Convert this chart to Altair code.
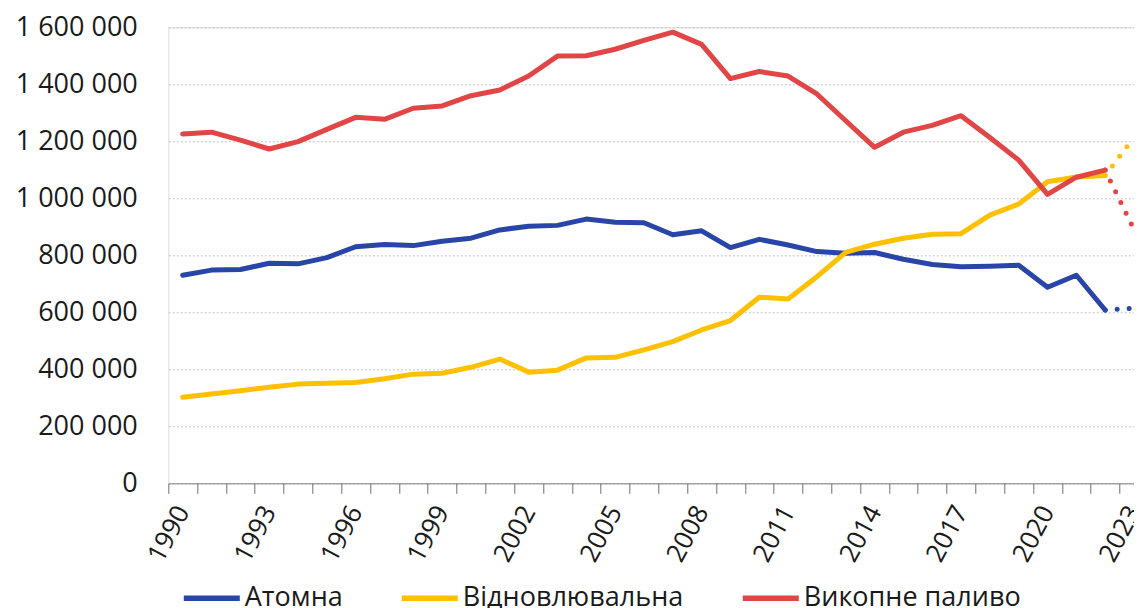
import altair as alt
import pandas as pd

years = list(range(1990, 2023))
series_names = ["Атомна", "Відновлювальна", "Викопне паливо"]
colors = ["#2A45A8", "#FFC000", "#E24545"]

nuclear = [730000, 748000, 750000, 772000, 770000, 792000, 830000, 838000, 834000, 849000,
           860000, 889000, 902000, 905000, 927000, 916000, 914000, 872000, 886000, 827000,
           856000, 836000, 813000, 807000, 810000, 786000, 768000, 760000, 762000, 765000,
           688000, 730000, 608000]
renewable = [302000, 313000, 325000, 337000, 348000, 351000, 354000, 367000, 383000, 386000,
             407000, 436000, 390000, 397000, 440000, 442000, 468000, 497000, 538000, 571000,
             653000, 647000, 725000, 810000, 839000, 860000, 874000, 876000, 941000, 980000,
             1058000, 1075000, 1080000]
fossil = [1226000, 1232000, 1204000, 1173000, 1199000, 1242000, 1284000, 1277000, 1316000, 1324000,
          1360000, 1380000, 1429000, 1499000, 1500000, 1523000, 1554000, 1583000, 1540000, 1420000,
          1445000, 1429000, 1366000, 1272000, 1179000, 1232000, 1256000, 1290000, 1213000, 1134000,
          1014000, 1074000, 1099000]

proj_years = [2022, 2023]
nuclear_proj = [608000, 614000]
renewable_proj = [1080000, 1214000]
fossil_proj = [1099000, 890000]

y_ticks = [0, 200000, 400000, 600000, 800000, 1000000, 1200000, 1400000, 1600000]
label_years = list(range(1990, 2024, 3))
boundaries = [y + 0.5 for y in range(1989, 2023)]

rows = []
for name, vals in zip(series_names, [nuclear, renewable, fossil]):
    for yr, v in zip(years, vals):
        rows.append({"year": yr, "series": name, "value": v})
df = pd.DataFrame(rows)

prow = []
for name, vals in zip(series_names, [nuclear_proj, renewable_proj, fossil_proj]):
    for yr, v in zip(proj_years, vals):
        prow.append({"year": yr, "series": name, "value": v})
dfp = pd.DataFrame(prow)

FONT = "Open Sans"
TXT = "#1a1a1a"
XDOM = [1989.5, 2023.0]

x_labels = alt.X(
    "year:Q",
    scale=alt.Scale(domain=XDOM, nice=False, zero=False),
    axis=alt.Axis(
        title=None,
        orient="bottom",
        values=label_years,
        format="d",
        grid=False,
        domain=True,
        domainColor="#8a8a8a",
        domainWidth=1,
        ticks=False,
        labelAngle=-62,
        labelAlign="right",
        labelBaseline="middle",
        labelPadding=24,
        labelFontSize=26,
        labelFont=FONT,
        labelColor=TXT,
        labelOverlap=False,
        labelBound=False,
        labelFlush=False,
    ),
)

x_ticks = alt.X(
    "year:Q",
    scale=alt.Scale(domain=XDOM, nice=False, zero=False),
    axis=alt.Axis(
        title=None,
        orient="bottom",
        values=boundaries,
        grid=False,
        domain=False,
        labels=False,
        ticks=True,
        tickSize=10,
        tickWidth=1,
        tickColor="#6e6e6e",
    ),
)

y_enc = alt.Y(
    "value:Q",
    scale=alt.Scale(domain=[0, 1600000], nice=False),
    axis=alt.Axis(
        title=None,
        values=y_ticks,
        grid=True,
        gridDash=[2, 2],
        gridColor="#c4c4c4",
        gridWidth=1,
        domain=False,
        ticks=False,
        labelExpr="replace(replace(format(datum.value, ','), ',', ' '), ',', ' ')",
        labelFontSize=27,
        labelFont=FONT,
        labelColor=TXT,
        labelPadding=31,
    ),
)

color_enc = alt.Color(
    "series:N",
    scale=alt.Scale(domain=series_names, range=colors),
    sort=series_names,
    legend=alt.Legend(
        title=None,
        orient="none",
        legendX=12.5,
        legendY=540,
        direction="horizontal",
        symbolType="stroke",
        symbolSize=3136,
        symbolStrokeWidth=5.5,
        labelFontSize=27,
        labelFont=FONT,
        labelColor=TXT,
        labelOffset=2,
        labelLimit=0,
        columnPadding=48,
    ),
)

solid = alt.Chart(df).mark_line(strokeWidth=5, strokeCap="round", strokeJoin="round").encode(
    x=x_labels, y=y_enc, color=color_enc, order=alt.Order("year:Q")
)

dotted = alt.Chart(dfp).mark_line(strokeWidth=5, strokeCap="round", strokeDash=[0, 12]).encode(
    x=x_ticks, y=y_enc, color=color_enc, order=alt.Order("year:Q")
)

chart = alt.layer(solid, dotted).resolve_axis(x="independent").properties(
    width=965.7,
    height=456,
    autosize=alt.AutoSizeParams(type="none"),
    padding={"left": 160.3, "top": 19.3, "right": 0, "bottom": 124.7},
).configure_view(stroke=None).configure(background="white")

chart.save("out.html", embed_options={"renderer": "svg", "actions": False})
